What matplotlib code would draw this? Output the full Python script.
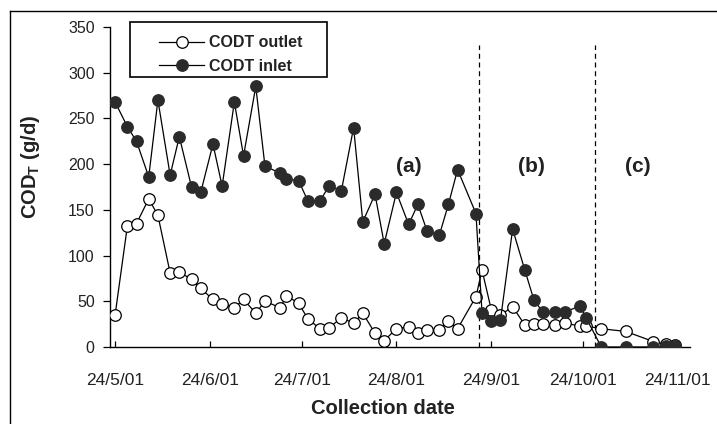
import matplotlib
matplotlib.use("Agg")
import matplotlib.pyplot as plt
import matplotlib.dates as mdates
from matplotlib.patches import Rectangle
from matplotlib.lines import Line2D
import numpy as np
import datetime as dt

plt.rcParams['font.family'] = ['Liberation Sans', 'DejaVu Sans']
plt.rcParams['mathtext.fontset'] = 'custom'
plt.rcParams['mathtext.rm'] = 'Liberation Sans:bold'
plt.rcParams['mathtext.it'] = 'Liberation Sans:bold'
plt.rcParams['mathtext.bf'] = 'Liberation Sans:bold'

# ---------------- data ----------------
dates = ["2001-05-24", "2001-05-28", "2001-05-31", "2001-06-04", "2001-06-07",
         "2001-06-11", "2001-06-14", "2001-06-18", "2001-06-21", "2001-06-25",
         "2001-06-28", "2001-07-02", "2001-07-05", "2001-07-09", "2001-07-12",
         "2001-07-17", "2001-07-19", "2001-07-23", "2001-07-26", "2001-07-30",
         "2001-08-02", "2001-08-06", "2001-08-10", "2001-08-13", "2001-08-17",
         "2001-08-20", "2001-08-24", "2001-08-28", "2001-08-31", "2001-09-03",
         "2001-09-07", "2001-09-10", "2001-09-13", "2001-09-19", "2001-09-21",
         "2001-09-24", "2001-09-27", "2001-10-01", "2001-10-05", "2001-10-08",
         "2001-10-11", "2001-10-15", "2001-10-18", "2001-10-23", "2001-10-25",
         "2001-10-30", "2001-11-07", "2001-11-16", "2001-11-20", "2001-11-23"]

codt_outlet = [35, 132, 135, 162, 144, 81, 82, 74, 64, 52,
               47, 43, 52, 37, 50, 43, 56, 48, 31, 20,
               21, 32, 26, 37, 15, 7, 20, 22, 15, 19,
               19, 28, 20, 55, 84, 41, 35, 44, 24, 25,
               25, 24, 26, 23, 23, 20, 17, 6, 3, 2]

codt_inlet = [268, 241, 225, 186, 270, 188, 230, 175, 169, 222,
              176, 268, 209, 285, 198, 190, 184, 182, 160, 160,
              176, 171, 240, 137, 167, 113, 169, 134, 156, 127,
              122, 156, 194, 146, 37, 28, 29, 129, 84, 51,
              38, 38, 38, 45, 32, 0, 0, 0, 1, 1]

tick_dates = ["2001-05-24", "2001-06-24", "2001-07-24", "2001-08-24",
              "2001-09-24", "2001-10-24", "2001-11-24"]
y_ticks = [0, 50, 100, 150, 200, 250, 300, 350]

phase_bounds = ["2001-09-20", "2001-10-28"]
phase_labels = ["(a)", "(b)", "(c)"]
phase_label_dates = ["2001-08-28", "2001-10-07", "2001-11-11"]

series_names = ["CODT outlet", "CODT inlet"]

# ---------------- figure ----------------
W, H = 717, 424
fig = plt.figure(figsize=(W / 100, H / 100), dpi=100)

ax_left, ax_right, ax_top, ax_bottom = 110, 690, 27, 347
ax = fig.add_axes([ax_left / W, 1 - ax_bottom / H,
                   (ax_right - ax_left) / W, (ax_bottom - ax_top) / H])

to_d = lambda s: dt.datetime.strptime(s, "%Y-%m-%d")
x = [to_d(s) for s in dates]

ax.plot(x, codt_outlet, '-', color='black', lw=0.9, marker='o', ms=8.3,
        mfc='white', mec='black', mew=0.9, zorder=3, label=series_names[0])
ax.plot(x, codt_inlet, '-', color='black', lw=0.9, marker='o', ms=8.3,
        mfc='#2b2b2b', mec='#2b2b2b', mew=0.9, zorder=4, label=series_names[1])

for b in phase_bounds:
    ax.axvline(to_d(b), ymin=0, ymax=330 / 350, color='black', lw=0.9,
               ls=(0, (4, 3)), zorder=2)

for lab, d in zip(phase_labels, phase_label_dates):
    ax.text(to_d(d), 197, lab, ha='center', va='center', fontsize=15,
            fontweight='bold', color='#222222')

ax.set_xlim(to_d("2001-05-22") + dt.timedelta(hours=8), to_d("2001-11-28"))
ax.set_ylim(0, 350)
ax.set_yticks(y_ticks)
ax.set_xticks([to_d(s) for s in tick_dates])
ax.xaxis.set_major_formatter(plt.FuncFormatter(
    lambda v, p: (lambda d: f"{d.day}/{d.month}/{d.strftime('%y')}")(mdates.num2date(v))))

for s in ['top', 'right']:
    ax.spines[s].set_visible(False)
for s in ['left', 'bottom']:
    ax.spines[s].set_linewidth(1.0)

ax.tick_params(axis='y', direction='out', length=5, width=0.9, pad=6, labelsize=11.5)
ax.tick_params(axis='x', direction='in', length=4, width=0.9, pad=19, labelsize=12.5)
for t in ax.get_xticklabels() + ax.get_yticklabels():
    t.set_color('#222222')

fig.text(383 / W, 1 - 408 / H, "Collection date", ha='center', va='center',
         fontsize=14.5, fontweight='bold', color='#222222')
fig.text(30 / W, 1 - 167 / H, r"COD$_\mathrm{T}$ (g/d)", ha='center', va='center',
         rotation=90, fontsize=14.5, fontweight='bold', color='#222222')

# legend
fig.patches.append(Rectangle((130 / W, 1 - 77 / H), (327 - 130) / W, (77 - 22) / H,
                             transform=fig.transFigure, fill=False,
                             edgecolor='black', lw=1.2, zorder=10))
leg = ax.legend(loc='upper left', bbox_to_anchor=(148 / W, 1 - 24 / H),
                bbox_transform=fig.transFigure, frameon=False,
                prop={'weight': 'bold', 'size': 11.5}, handlelength=2.8,
                handletextpad=0.3, labelspacing=0.55, borderpad=0.2)
for t in leg.get_texts():
    t.set_color('#222222')

# figure frame lines (top and left)
fig.lines.append(Line2D([10 / W, 1], [1 - 11 / H, 1 - 11 / H],
                        transform=fig.transFigure, color='black', lw=1.0))
fig.lines.append(Line2D([10 / W, 10 / W], [0, 1 - 11 / H],
                        transform=fig.transFigure, color='black', lw=1.0))

fig.savefig("out.png", dpi=100)
